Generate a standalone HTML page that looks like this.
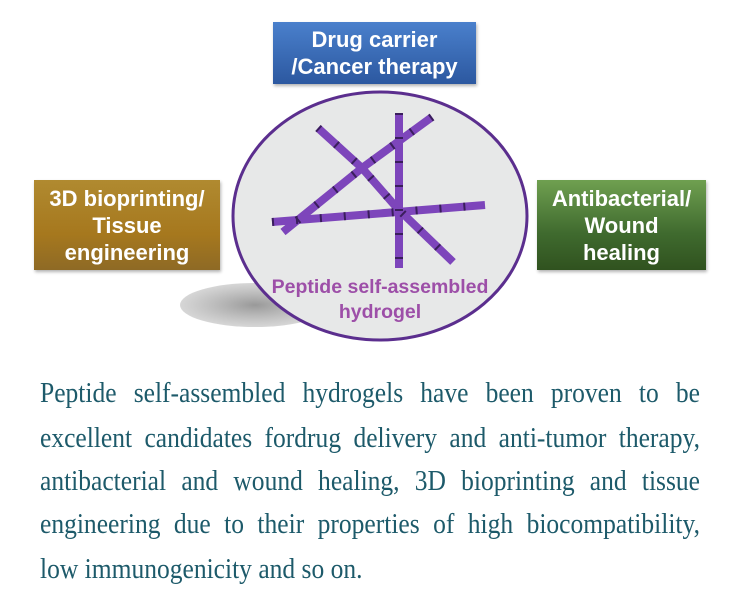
<!DOCTYPE html>
<html><head><style>
body{margin:0;width:744px;height:597px;background:#fff;position:relative;overflow:hidden;font-family:"Liberation Sans",sans-serif}
.box{position:absolute;color:#fff;font-weight:bold;font-size:22px;text-align:center;line-height:27px;display:flex;align-items:center;justify-content:center;box-shadow:1px 2px 3px rgba(0,0,0,.3);white-space:nowrap}
.ln{position:absolute;left:40px;width:750px;transform:scaleX(0.88);transform-origin:0 0;font-family:"Liberation Serif",serif;font-size:29px;line-height:30px;color:#1d5a6a;text-align:justify;text-align-last:justify;white-space:nowrap}
</style></head><body>
<svg width="744" height="597" style="position:absolute;left:0;top:0">
<defs><radialGradient id="sh"><stop offset="0" stop-color="#999"/><stop offset="1" stop-color="#ccc" stop-opacity="0.8"/></radialGradient></defs>
<ellipse cx="255" cy="305" rx="75" ry="22" fill="url(#sh)"/>
<ellipse cx="380" cy="216" rx="147" ry="124" fill="#e7e8e8" stroke="#5b2e8e" stroke-width="3"/>
<g fill="none">
<g stroke="#7d45bb" stroke-width="8">
<polyline points="318,128 362,168 397,208 453,262"/>
<line x1="399" y1="113" x2="399" y2="268"/>
<polyline points="432,117 362,168 283,232"/>
<line x1="272" y1="222" x2="485" y2="205"/>
</g>
<g stroke="#3a1e5c" stroke-width="8" stroke-dasharray="2 22">
<polyline points="318,128 362,168 397,208 453,262"/>
<line x1="399" y1="113" x2="399" y2="268"/>
<polyline points="432,117 362,168 283,232"/>
<line x1="272" y1="222" x2="485" y2="205"/>
</g>
</g>
<text x="380" y="293" text-anchor="middle" font-family="Liberation Sans" font-weight="bold" font-size="19.5" fill="#9d4fa8">Peptide self-assembled</text>
<text x="380" y="318" text-anchor="middle" font-family="Liberation Sans" font-weight="bold" font-size="19.5" fill="#9d4fa8">hydrogel</text>
</svg>
<div class="box" style="left:273px;top:22px;width:203px;height:62px;background:linear-gradient(#4a80cc,#2c58a0)">Drug carrier<br>/Cancer therapy</div>
<div class="box" style="left:34px;top:180px;width:186px;height:90px;background:linear-gradient(#b08a30,#a6781e 60%,#8e6a25)">3D bioprinting/<br>Tissue<br>engineering</div>
<div class="box" style="left:537px;top:180px;width:169px;height:90px;background:linear-gradient(#6fa050,#3f6a2e 60%,#30521f)">Antibacterial/<br>Wound<br>healing</div>
<div class="ln" style="top:378px">Peptide self-assembled hydrogels have been proven to be</div>
<div class="ln" style="top:423px">excellent candidates fordrug delivery and anti-tumor therapy,</div>
<div class="ln" style="top:466px">antibacterial and wound healing, 3D bioprinting and tissue</div>
<div class="ln" style="top:509px">engineering due to their properties of high biocompatibility,</div>
<div class="ln" style="top:554px;text-align-last:left">low immunogenicity and so on.</div>
</body></html>
